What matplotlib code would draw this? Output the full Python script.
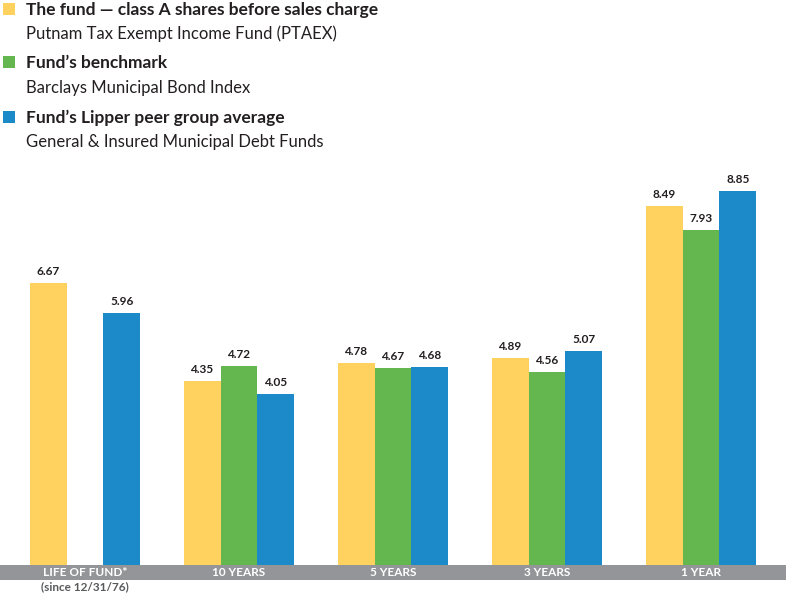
import numpy as np
import matplotlib.pyplot as plt
from matplotlib.patches import Rectangle

# data
periods = ["LIFE OF FUND*", "10 YEARS", "5 YEARS", "3 YEARS", "1 YEAR"]
fund = [6.67, 4.35, 4.78, 4.89, 8.49]
benchmark = [None, 4.72, 4.67, 4.56, 7.93]
lipper = [5.96, 4.05, 4.68, 5.07, 8.85]

titles = ["The fund \u2014 class A shares before sales charge",
          "Fund\u2019s benchmark",
          "Fund\u2019s Lipper peer group average"]
subtitles = ["Putnam Tax Exempt Income Fund (PTAEX)",
             "Barclays Municipal Bond Index",
             "General & Insured Municipal Debt Funds"]

YELLOW = "#FFD25F"
GREEN = "#64B64F"
BLUE = "#1C89C9"
GREY = "#939598"
INK = "#231F20"
colors = [YELLOW, GREEN, BLUE]

W, H = 786, 595
fig = plt.figure(figsize=(W / 100, H / 100), dpi=100)
plt.rcParams['font.family'] = ['Lato', 'DejaVu Sans']

def fy(px):
    return 1 - px / H

# axes: baseline at y=565px, 42.26 px per unit
base_px, top_px = 565, 165
ax = fig.add_axes([0, fy(base_px), 1, (base_px - top_px) / H])
ax.set_xlim(-85 / 154, (W - 85) / 154)
ax.set_ylim(0, (base_px - top_px) / 42.26)
ax.axis('off')

x = np.arange(len(periods))
bw = 0.24
for i, series in enumerate([fund, benchmark, lipper]):
    for xi, v in zip(x, series):
        if v is None:
            continue
        xp = xi + (i - 1) * bw
        ax.bar(xp, v, width=bw, color=colors[i], edgecolor='none')
        ax.text(xp, v + 0.14, f"{v:.2f}", ha='center', va='bottom',
                fontsize=8.5, fontweight='bold', color=INK)

# grey band with period labels
fig.patches.append(Rectangle((0, fy(580)), 1, 15 / H, transform=fig.transFigure,
                             facecolor=GREY, edgecolor='none'))
for xi, lab in zip(x, periods):
    xf = (85 + xi * 154) / W
    fig.text(xf, fy(573), lab, ha='center', va='center', fontsize=8.5,
             fontweight='bold', color='white')
fig.text(85 / W, fy(587), "(since 12/31/76)", ha='center', va='center',
         fontsize=8.5, fontweight='bold', color="#58595B")

# legend
title_base = [15, 68, 123]
sub_base = [39, 93, 147]
for c, t, s, tb, sb in zip(colors, titles, subtitles, title_base, sub_base):
    fig.patches.append(Rectangle((3 / W, fy(tb)), 12 / W, 12 / H,
                                 transform=fig.transFigure, facecolor=c,
                                 edgecolor='none'))
    fig.text(26 / W, fy(tb), t, ha='left', va='baseline', fontsize=12.5,
             fontweight='bold', color=INK)
    fig.text(26 / W, fy(sb), s, ha='left', va='baseline', fontsize=12,
             color=INK)

fig.savefig("out.png", dpi=100)
